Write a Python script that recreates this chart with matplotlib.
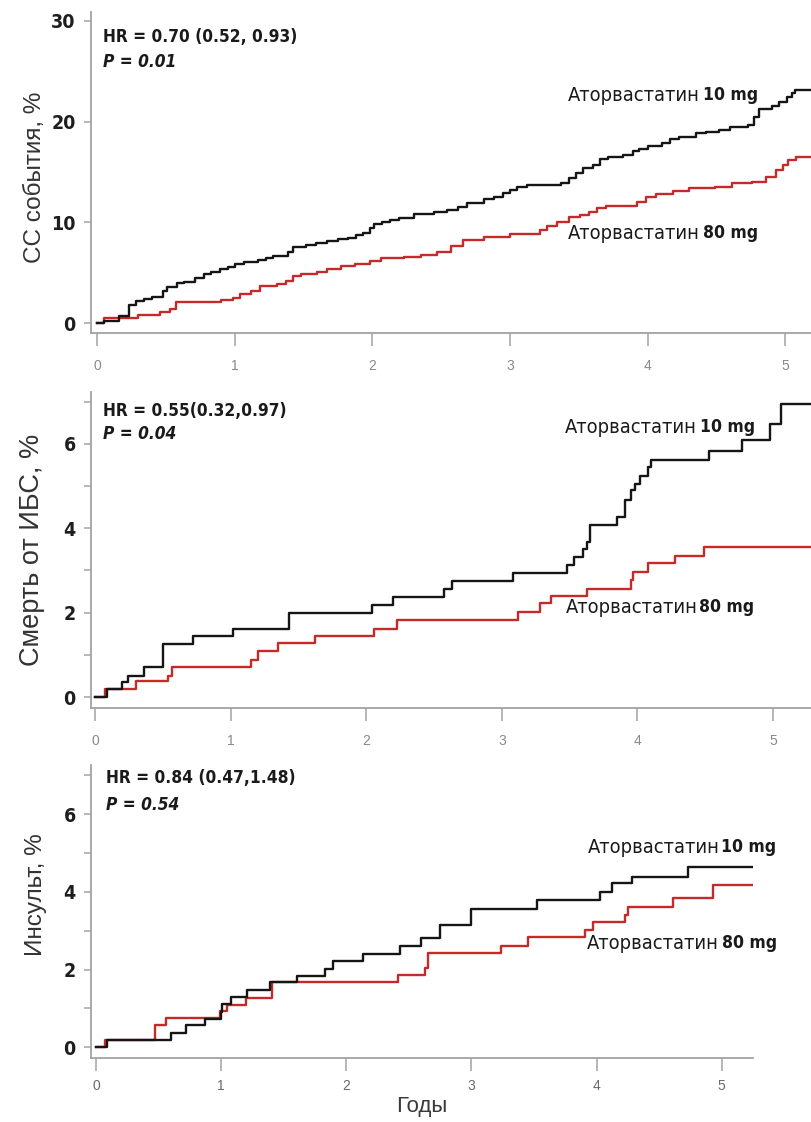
import numpy as np
import matplotlib.pyplot as plt
from matplotlib import font_manager as fm
from matplotlib.ticker import FixedLocator

# Cumulative incidence (%), step curves read per year of follow-up
cv_t_10 = [0, 0.05, 0.16, 0.23, 0.28, 0.34, 0.40, 0.48, 0.51, 0.58, 0.63, 0.71, 0.78, 0.83, 0.89,
           0.95, 1.00, 1.07, 1.17, 1.23, 1.28, 1.39, 1.42, 1.52, 1.59, 1.67, 1.75, 1.82, 1.88, 1.93,
           1.98, 2.01, 2.07, 2.13, 2.19, 2.30, 2.45, 2.54, 2.62, 2.69, 2.81, 2.88, 2.95, 3.00, 3.05,
           3.12, 3.37, 3.43, 3.48, 3.53, 3.60, 3.65, 3.71, 3.82, 3.89, 3.94, 4.00, 4.10, 4.16, 4.23,
           4.35, 4.42, 4.52, 4.60, 4.73, 4.77, 4.81, 4.90, 4.95, 5.01, 5.05, 5.07, 5.30]
cv_v_10 = [0, 0.2, 0.66, 1.8, 2.15, 2.4, 2.6, 3.2, 3.6, 3.97, 4.1, 4.5, 4.9, 5.1, 5.4,
           5.6, 5.9, 6.1, 6.3, 6.45, 6.7, 7.1, 7.5, 7.7, 7.9, 8.1, 8.3, 8.4, 8.7, 8.9,
           9.4, 9.8, 10.0, 10.2, 10.4, 10.8, 11.0, 11.2, 11.5, 11.9, 12.3, 12.5, 12.9, 13.2, 13.5,
           13.7, 13.9, 14.4, 14.9, 15.4, 15.7, 16.3, 16.5, 16.7, 17.1, 17.3, 17.6, 17.9, 18.3, 18.5,
           18.9, 19.0, 19.2, 19.5, 19.7, 20.5, 21.2, 21.5, 21.9, 22.4, 22.8, 23.1, 23.1]
cv_t_80 = [0, 0.05, 0.30, 0.46, 0.53, 0.57, 0.90, 0.99, 1.04, 1.12, 1.18, 1.31, 1.37, 1.42, 1.48,
           1.60, 1.67, 1.77, 1.87, 1.98, 2.06, 2.23, 2.35, 2.47, 2.57, 2.66, 2.81, 3.00, 3.22, 3.27,
           3.34, 3.43, 3.51, 3.57, 3.63, 3.70, 3.92, 3.99, 4.06, 4.18, 4.30, 4.49, 4.61, 4.76, 4.86,
           4.93, 4.98, 5.02, 5.08, 5.30]
cv_v_80 = [0, 0.5, 0.8, 1.06, 1.4, 2.05, 2.25, 2.5, 2.9, 3.2, 3.7, 3.9, 4.2, 4.7, 4.9,
           5.1, 5.4, 5.7, 5.9, 6.2, 6.45, 6.6, 6.8, 7.1, 7.6, 8.2, 8.5, 8.8, 9.2, 9.6,
           10.0, 10.5, 10.7, 11.0, 11.4, 11.6, 12.0, 12.5, 12.8, 13.1, 13.4, 13.5, 13.9, 14.0, 14.5,
           15.2, 15.7, 16.2, 16.5, 16.5]

chd_t_10 = [0, 0.09, 0.20, 0.24, 0.36, 0.50, 0.72, 1.02, 1.43, 2.04, 2.20, 2.57, 2.63, 3.08, 3.48,
            3.53, 3.60, 3.63, 3.65, 3.85, 3.91, 3.95, 3.98, 4.02, 4.08, 4.10, 4.53, 4.77, 4.98, 5.06,
            5.40]
chd_v_10 = [0, 0.2, 0.36, 0.51, 0.70, 1.26, 1.44, 1.62, 2.0, 2.17, 2.36, 2.57, 2.75, 2.94, 3.13,
            3.32, 3.52, 3.68, 4.07, 4.27, 4.66, 4.90, 5.06, 5.25, 5.45, 5.63, 5.84, 6.09, 6.47, 6.94,
            6.94]
chd_t_80 = [0, 0.07, 0.30, 0.54, 0.57, 1.15, 1.20, 1.35, 1.62, 2.06, 2.23, 3.12, 3.28, 3.36, 3.63,
            3.95, 3.97, 4.08, 4.28, 4.49, 5.40]
chd_v_80 = [0, 0.2, 0.38, 0.51, 0.70, 0.87, 1.09, 1.28, 1.44, 1.62, 1.82, 2.02, 2.22, 2.39, 2.57,
            2.77, 2.97, 3.17, 3.34, 3.56, 3.56]

stroke_t_10 = [0, 0.09, 0.60, 0.72, 0.87, 1.00, 1.01, 1.08, 1.21, 1.39, 1.61, 1.83, 1.89, 2.13, 2.43,
               2.60, 2.75, 3.00, 3.52, 4.03, 4.12, 4.28, 4.73, 5.25]
stroke_v_10 = [0, 0.19, 0.37, 0.56, 0.73, 0.90, 1.11, 1.28, 1.47, 1.67, 1.84, 2.01, 2.21, 2.41, 2.61,
               2.80, 3.16, 3.57, 3.79, 4.0, 4.22, 4.39, 4.65, 4.65]
stroke_t_80 = [0, 0.07, 0.47, 0.56, 0.99, 1.05, 1.20, 1.41, 2.41, 2.63, 2.65, 3.24, 3.45, 3.91, 3.97,
               4.23, 4.25, 4.61, 4.93, 5.25]
stroke_v_80 = [0, 0.19, 0.56, 0.75, 0.94, 1.09, 1.26, 1.67, 1.86, 2.05, 2.43, 2.6, 2.84, 3.01, 3.22,
               3.40, 3.61, 3.83, 4.18, 4.18]

ylabels = ["СС события, %", "Смерть от ИБС, %", "Инсульт, %"]
hr_texts = ["HR = 0.70 (0.52, 0.93)", "HR = 0.55(0.32,0.97)", "HR = 0.84 (0.47,1.48)"]
p_texts = ["P = 0.01", "P = 0.04", "P = 0.54"]
drug = "Аторвастатин"
doses = ["10 mg", "80 mg"]
year_ticks = [0, 1, 2, 3, 4, 5]


def narrow_font():
    # prefer a narrow sans if one is installed, otherwise Lato
    for fam, stretch in [("Liberation Sans Narrow", "normal"), ("DejaVu Sans", "condensed"),
                         ("Roboto Condensed", "normal")]:
        try:
            path = fm.findfont(fm.FontProperties(family=fam, stretch=stretch),
                               fallback_to_default=False)
        except ValueError:
            continue
        if "Narrow" in path or "Condensed" in path:
            return fam, stretch
    return "Lato", "normal"


NARROW, STRETCH = narrow_font()
NARROW = [NARROW, "DejaVu Sans"]
REGULAR = ["Liberation Sans", "DejaVu Sans"]
BLACK = "#151515"
RED = "#c42a2a"
AXIS_GREY = "#a3a3a3"
TEXT = "#1a1a1a"

W, H = 812, 1122
fig = plt.figure(figsize=(W / 100, H / 100), dpi=100)
renderer = fig.canvas.get_renderer()


def size_for(s, target_px, **kw):
    # font size that makes the string target_px wide
    t = fig.text(0, 0, s, fontsize=10, family=NARROW, fontstretch=STRETCH, **kw)
    w = t.get_window_extent(renderer).width
    t.remove()
    return 10 * target_px / w


bold_size = size_for(hr_texts[0], 195, fontweight="bold")
drug_size = size_for(drug, 132)
dose_size = size_for(doses[0], 55, fontweight="bold")


def px_axes(left, right, top, bottom):
    # axes rectangle given in pixel edges
    return fig.add_axes([left / W, 1 - bottom / H, (right - left) / W, (bottom - top) / H])


panels = [
    dict(rect=(91, 812, 12, 333), xlim=(-0.044, 5.193), ylim=(-0.99, 30.88),
         major=[0, 10, 20, 30], minor=[],
         curves=((cv_t_10, cv_v_10), (cv_t_80, cv_v_80)),
         hr=(0.016, 0.922, 0.844), lab=(4.39, 22.6, 8.9), gaps=(4, 4),
         xlab_color="#8a8a8a", xpad=10, ylab=(-0.063, 0.485, 17.5)),
    dict(rect=(91, 812, 392, 708), xlim=(-0.03, 5.288), ylim=(-0.26, 7.23),
         major=[0, 2, 4, 6], minor=[1, 3, 5, 7],
         curves=((chd_t_10, chd_v_10), (chd_t_80, chd_v_80)),
         hr=(0.017, 0.94, 0.867), lab=(4.45, 6.4, 2.13), gaps=(4, 1),
         xlab_color="#8a8a8a", xpad=10, ylab=(-0.064, 0.50, 19.5)),
    dict(rect=(91, 753, 765, 1058), xlim=(-0.04, 5.25), ylim=(-0.28, 7.27),
         major=[0, 2, 4, 6], minor=[1, 3, 5, 7],
         curves=((stroke_t_10, stroke_v_10), (stroke_t_80, stroke_v_80)),
         hr=(0.023, 0.956, 0.863), lab=(4.99, 5.15, 2.68), gaps=(1, 4),
         xlab_color="#6a6a6a", xpad=6, ylab=(-0.066, 0.556, 17.5)),
]

for i, p in enumerate(panels):
    ax = px_axes(*p["rect"])
    (t10, v10), (t80, v80) = p["curves"]
    ax.step(t80, v80, where="post", color=RED, lw=1.7)
    ax.step(t10, v10, where="post", color=BLACK, lw=1.7)
    ax.set_xlim(*p["xlim"])
    ax.set_ylim(*p["ylim"])

    for side in ("top", "right"):
        ax.spines[side].set_visible(False)
    for side in ("left", "bottom"):
        ax.spines[side].set_color(AXIS_GREY)
        ax.spines[side].set_linewidth(1.3)

    ax.yaxis.set_major_locator(FixedLocator(p["major"]))
    ax.yaxis.set_minor_locator(FixedLocator(p["minor"]))
    ax.set_xticks(year_ticks)
    ax.tick_params(axis="y", which="both", direction="out", length=5, width=1.1,
                   color=AXIS_GREY, pad=6)
    ax.tick_params(axis="x", direction="out", length=9, width=1.1, color=AXIS_GREY,
                   pad=p["xpad"])
    for lbl in ax.get_yticklabels():
        lbl.set_fontfamily(NARROW)
        lbl.set_fontstretch(STRETCH)
        lbl.set_fontweight("bold")
        lbl.set_fontsize(14)
        lbl.set_color("#1e1e1e")
    for lbl in ax.get_xticklabels():
        lbl.set_fontfamily(REGULAR)
        lbl.set_fontsize(10)
        lbl.set_color(p["xlab_color"])

    lx_ax, ly_ax, lsize = p["ylab"]
    ax.set_ylabel(ylabels[i], fontsize=lsize, family=REGULAR, color="#333333")
    ax.yaxis.set_label_coords(lx_ax, ly_ax)

    hx, hy, py = p["hr"]
    ax.text(hx, hy, hr_texts[i], transform=ax.transAxes, family=NARROW, fontstretch=STRETCH,
            fontweight="bold", fontsize=bold_size, color=TEXT, va="center", ha="left")
    ax.text(hx, py, p_texts[i], transform=ax.transAxes, family=NARROW, fontstretch=STRETCH,
            fontweight="bold", style="italic", fontsize=bold_size, color=TEXT,
            va="center", ha="left")

    # curve labels: regular drug name, bold dose
    lx, ly10, ly80 = p["lab"]
    for dose, ly, gap in zip(doses, (ly10, ly80), p["gaps"]):
        ax.annotate(drug, (lx, ly), xytext=(-gap / 2, 0), textcoords="offset pixels",
                    ha="right", va="center", family=NARROW, fontstretch=STRETCH,
                    fontsize=drug_size, color=TEXT)
        ax.annotate(dose, (lx, ly), xytext=(gap / 2, 0), textcoords="offset pixels",
                    ha="left", va="center", family=NARROW, fontstretch=STRETCH,
                    fontsize=dose_size, fontweight="bold", color=TEXT)

    if i == 2:
        ax.set_xlabel("Годы", fontsize=16, family=REGULAR, color="#3a3a3a", labelpad=2)

fig.savefig("out.png", dpi=100)
